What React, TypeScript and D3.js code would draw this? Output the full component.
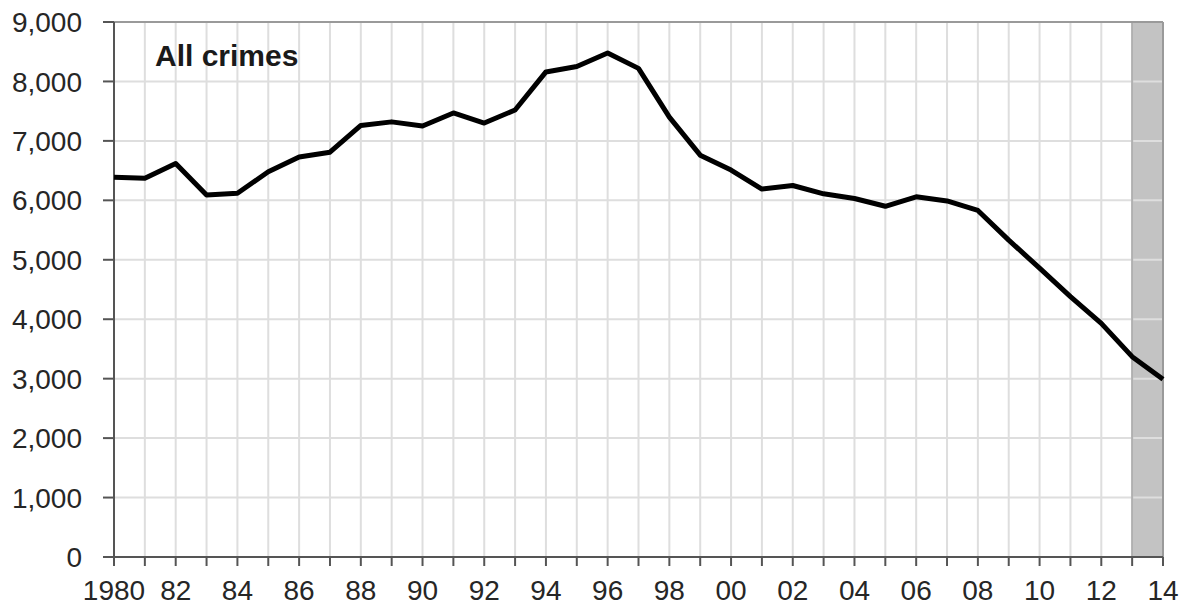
import React from "react";
import * as d3 from "d3";

const years = d3.range(1980, 2015);
const crimes = [
  6390, 6370, 6620, 6090, 6120, 6480, 6730, 6810, 7260, 7320,
  7250, 7470, 7300, 7520, 8160, 8250, 8480, 8220, 7400, 6760,
  6510, 6190, 6250, 6110, 6030, 5900, 6060, 5990, 5830, 5330,
  4860, 4380, 3930, 3370, 2990,
];
const yTicks = [0, 1000, 2000, 3000, 4000, 5000, 6000, 7000, 8000, 9000];
const xLabelYears = [1980, 1982, 1984, 1986, 1988, 1990, 1992, 1994, 1996, 1998, 2000, 2002, 2004, 2006, 2008, 2010, 2012, 2014];
const shadeRange = [2013, 2014];
const title = "All crimes";

const W = 1183, H = 609;
const left = 114, right = 1163, top = 22, bottom = 557;
const FONT = "Liberation Sans, Arial, sans-serif";

export default function App() {
  const x = d3.scaleLinear().domain([1980, 2014]).range([left, right]);
  const y = d3.scaleLinear().domain([0, 9000]).range([bottom, top]);
  const line = d3.line<number>().x((_, i) => x(years[i])).y((d) => y(d));
  const fmt = d3.format(",");
  const xLabel = (yr: number) => (yr === 1980 ? "1980" : String(yr % 100).padStart(2, "0"));

  return (
    <svg width={W} height={H} style={{ position: "absolute", left: 0, top: 0, background: "#fff" }}>
      <rect x={x(shadeRange[0])} y={top} width={x(shadeRange[1]) - x(shadeRange[0])} height={bottom - top} fill="#c3c3c3" />
      {years.slice(1).map((yr) => (
        <line key={"gx" + yr} x1={x(yr)} x2={x(yr)} y1={top} y2={bottom} stroke="#dedede" strokeWidth={2} />
      ))}
      {yTicks.slice(1).map((t) => (
        <line key={"gy" + t} x1={left} x2={right} y1={y(t)} y2={y(t)} stroke="#dedede" strokeWidth={2} />
      ))}
      <line x1={x(shadeRange[0])} x2={x(shadeRange[0])} y1={top} y2={bottom} stroke="#b0b0b0" strokeWidth={2} />
      <line x1={left} x2={right} y1={top} y2={top} stroke="#9a9a9a" strokeWidth={2} />
      <line x1={right} x2={right} y1={top} y2={bottom} stroke="#9a9a9a" strokeWidth={2} />
      <line x1={left} x2={left} y1={top} y2={bottom} stroke="#555" strokeWidth={2} />
      <line x1={left} x2={right} y1={bottom} y2={bottom} stroke="#555" strokeWidth={2} />
      {yTicks.map((t) => (
        <g key={"yt" + t}>
          <line x1={left - 11} x2={left} y1={y(t)} y2={y(t)} stroke="#555" strokeWidth={2} />
          <text x={82} y={y(t)} dy="0.36em" textAnchor="end" fontFamily={FONT} fontSize={28} fill="#262626">
            {fmt(t)}
          </text>
        </g>
      ))}
      {years.map((yr) => (
        <line key={"xt" + yr} x1={x(yr)} x2={x(yr)} y1={bottom} y2={bottom + 9} stroke="#555" strokeWidth={2} />
      ))}
      {xLabelYears.map((yr) => (
        <text key={"xl" + yr} x={x(yr)} y={600} textAnchor="middle" fontFamily={FONT} fontSize={28} fill="#262626">
          {xLabel(yr)}
        </text>
      ))}
      <path d={line(crimes) || ""} fill="none" stroke="#000" strokeWidth={5} strokeLinejoin="round" />
      <text x={155} y={66} fontFamily={FONT} fontSize={30} fontWeight="bold" fill="#1a1a1a">
        {title}
      </text>
    </svg>
  );
}
